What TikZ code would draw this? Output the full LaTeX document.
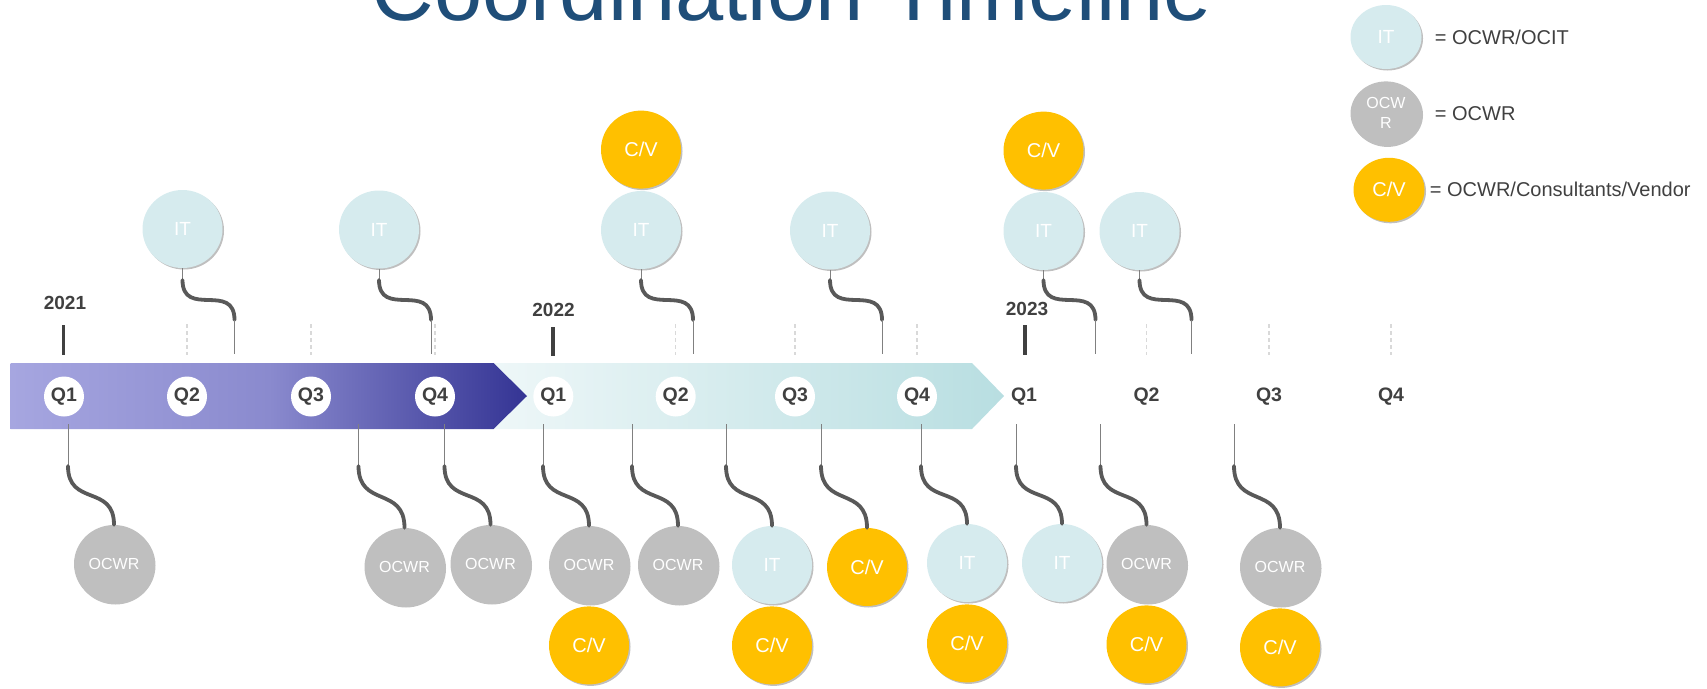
\documentclass[tikz,border=0pt]{standalone}
\usepackage{xcolor}
\usepackage{fontspec}
\setmainfont{Liberation Sans}
\usepackage{tikz}
\usetikzlibrary{shapes.geometric, positioning, calc, shadows}

\definecolor{titleblue}{HTML}{1F4E79}
\definecolor{darktext}{HTML}{404040}
\definecolor{bandL}{HTML}{A6A6E0}
\definecolor{bandM}{HTML}{8A8ACE}
\definecolor{bandR}{HTML}{343494}
\definecolor{tealL}{HTML}{EEF7F8}
\definecolor{tealR}{HTML}{B8DEE1}
\definecolor{itblue}{HTML}{D6EBEE}
\definecolor{ocwrgray}{HTML}{BFBFBF}
\definecolor{cvgold}{HTML}{FFC000}
\definecolor{stemgray}{HTML}{808080}
\definecolor{wigglegray}{HTML}{595959}
\definecolor{tickgray}{HTML}{D9D9D9}

\begin{document}
\begin{tikzpicture}[x=1pt, y=1pt, node distance=2pt,
        ball/.style={ellipse, minimum width=80pt, minimum height=78pt, inner sep=0pt, text=white,
            drop shadow={shadow xshift=1.5pt, shadow yshift=-1.5pt, opacity=0.25, fill=black}},
        itball/.style={ball, fill=itblue, font=\fontsize{19}{22}\selectfont},
        ocwrball/.style={ball, fill=ocwrgray, font=\fontsize{16}{20}\selectfont},
        cvball/.style={ball, fill=cvgold, font=\fontsize{20}{24}\selectfont},
        keyball/.style={minimum width=71pt, minimum height=64pt},
        keytext/.style={anchor=west, inner sep=0pt, text=darktext, font=\fontsize{20}{24}\selectfont},
        quarter/.style={circle, minimum size=40pt, inner sep=0pt, fill=white, text=darktext, font=\fontsize{19.5}{23}\selectfont\bfseries},
        quarterbare/.style={quarter, fill=none},
        yearlabel/.style={text=darktext, font=\fontsize{19}{23}\selectfont\bfseries},
        yeartick/.style={line width=3.5pt, draw=darktext},
        qtick/.style={line width=1.5pt, draw=tickgray, dash pattern=on 4pt off 3pt},
        stemline/.style={line width=1pt, draw=stemgray},
        wiggle/.style={line width=3.8pt, draw=wigglegray, line cap=round}]
        \useasboundingbox (0,0) rectangle (1707,-688);

        \node (Title) [anchor=base, text=titleblue, font=\fontsize{86.7}{100}\selectfont] at (792,-20.5) {Coordination Timeline};

        \shade[left color=tealL, right color=tealR] (493.5,-363) -- (972,-363) -- (1004,-396) -- (972,-429) -- (493.5,-429) -- cycle;
        \shade[left color=bandL, right color=bandR, middle color=bandM] (10.5,-363) -- (493.5,-363) -- (527,-396) -- (493.5,-429) -- (10.5,-429) -- cycle;

        \node (Q21a) [quarter] at (64,-396.5) {Q1};
        \node (Q21b) [quarter] at (187,-396.5) {Q2};
        \node (Q21c) [quarter] at (311,-396.5) {Q3};
        \node (Q21d) [quarter] at (435,-396.5) {Q4};
        \node (Q22a) [quarter] at (553.3,-396.5) {Q1};
        \node (Q22b) [quarter] at (675.7,-396.5) {Q2};
        \node (Q22c) [quarter] at (795,-396.5) {Q3};
        \node (Q22d) [quarter] at (917,-396.5) {Q4};
        \node (Q23a) [quarterbare] at (1024,-396.5) {Q1};
        \node (Q23b) [quarterbare] at (1146.5,-396.5) {Q2};
        \node (Q23c) [quarterbare] at (1269,-396.5) {Q3};
        \node (Q23d) [quarterbare] at (1391,-396.5) {Q4};

        \node (Y2021) [yearlabel] at (65,-303) {2021};
        \node (Y2022) [yearlabel] at (553.5,-310) {2022};
        \node (Y2023) [yearlabel] at (1027,-308.5) {2023};
        \draw[yeartick] (63.5,-325) -- (63.5,-355);
        \draw[yeartick] (552.8,-327) -- (552.8,-356);
        \draw[yeartick] (1024.8,-325) -- (1024.8,-355);
        \foreach \x in {187,311,435,675.7,795,917,1146.5,1269,1391}
            \draw[qtick] (\x,-324) -- (\x,-355);

        \node (Top1) [itball] at (182.5,-229) {IT};
        \node (Top2) [itball] at (379,-229.5) {IT};
        \node (Top3) [itball] at (641,-230) {IT};
        \node (Top3CV) [cvball, above=of Top3] {C/V};
        \node (Top4) [itball] at (830,-230.5) {IT};
        \node (Top5) [itball] at (1043.5,-231) {IT};
        \node (Top5CV) [cvball, above=of Top5] {C/V};
        \node (Top6) [itball] at (1139.5,-231) {IT};

        \foreach \t in {Top1,Top2,Top3,Top4,Top5,Top6} {
            \coordinate (\t-bend) at (\t.south |- 0,-280);
            \coordinate (\t-turn) at ($(\t-bend)+(52,-40)$);
            \coordinate (\t-foot) at ($(\t-turn)+(0,-34)$);
            \draw[stemline] (\t) -- (\t-bend);
            \draw[wiggle] (\t-bend) to[out=-90, in=90, looseness=1.5] (\t-turn);
            \draw[stemline] (\t-turn) -- (\t-foot);
        }

        \node (Bot1) [ocwrball] at (114,-564) {OCWR};
        \node (Bot2) [ocwrball] at (404.5,-567) {OCWR};
        \node (Bot3) [ocwrball] at (490.5,-564) {OCWR};
        \node (Bot4) [ocwrball] at (589,-565) {OCWR};
        \node (Bot4CV) [cvball, below=of Bot4] {C/V};
        \node (Bot5) [ocwrball] at (678,-565) {OCWR};
        \node (Bot6) [itball] at (772,-565) {IT};
        \node (Bot6CV) [cvball, below=of Bot6] {C/V};
        \node (Bot7) [cvball] at (867,-567) {C/V};
        \node (Bot8) [itball] at (967,-563) {IT};
        \node (Bot8CV) [cvball, below=of Bot8] {C/V};
        \node (Bot9) [itball] at (1062,-563) {IT};
        \node (Bot10) [ocwrball] at (1146.5,-564) {OCWR};
        \node (Bot10CV) [cvball, below=of Bot10] {C/V};
        \node (Bot11) [ocwrball] at (1280,-567) {OCWR};
        \node (Bot11CV) [cvball, below=of Bot11] {C/V};

        \foreach \b in {Bot1,Bot2,Bot3,Bot4,Bot5,Bot6,Bot7,Bot8,Bot9,Bot10,Bot11} {
            \coordinate (\b-top) at ($(\b.north |- 0,-424)+(-46,0)$);
            \coordinate (\b-bend) at ($(\b.north |- 0,-466)+(-46,0)$);
            \draw[stemline] (\b-top) -- (\b-bend);
            \draw[wiggle] (\b-bend) to[out=-90, in=90, looseness=1.4] (\b);
        }

        \node (KeyIT) [itball, keyball] at (1386,-37) {IT};
        \node (KeyOCWR) [ocwrball, keyball, align=center, below=12pt of KeyIT] {OCW\\R};
        \node (KeyCV) [cvball, keyball, below=12pt of KeyOCWR, xshift=3pt] {C/V};
        \node (KeyITText) [keytext, right=13pt of KeyIT] {= OCWR/OCIT};
        \node (KeyOCWRText) [keytext, right=13pt of KeyOCWR] {= OCWR};
        \node (KeyCVText) [keytext, right=5pt of KeyCV] {= OCWR/Consultants/Vendor};
    \end{tikzpicture}
\end{document}
